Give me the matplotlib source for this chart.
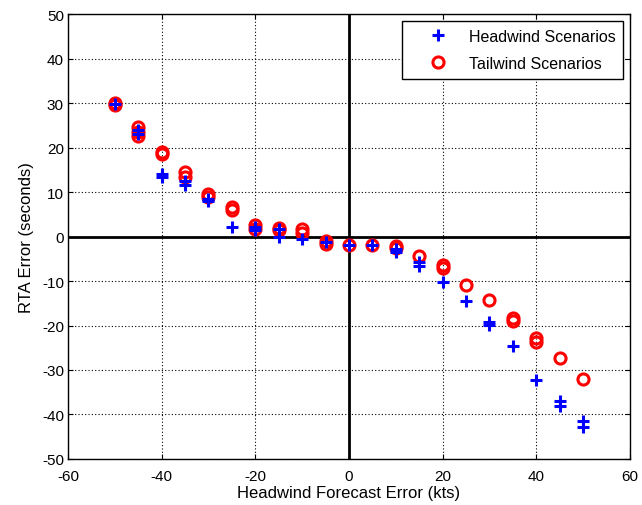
import numpy as np
import matplotlib.pyplot as plt

plt.rcParams['font.family'] = ['Liberation Sans', 'DejaVu Sans']
plt.rcParams['axes.unicode_minus'] = False

# Headwind scenarios (x, y)
head_x = [-50, -45, -45, -40, -40, -35, -35, -30, -30, -25, -20, -20,
          -15, -15, -10, -5, 0, 5, 10, 10, 15, 15, 20, 25, 30, 30,
          35, 40, 45, 45, 50, 50]
head_y = [29.7, 24.0, 23.0, 14.0, 13.5, 12.6, 11.5, 8.5, 8.0, 2.2, 2.2, 1.5,
          1.8, 0.0, -0.6, -1.3, -1.8, -1.8, -2.8, -3.5, -5.8, -6.6, -10.3, -14.4, -19.1, -19.9,
          -24.5, -32.2, -36.9, -38.0, -41.4, -42.9]

# Tailwind scenarios (x, y)
tail_x = [-50, -50, -45, -45, -45, -40, -40, -35, -35, -30, -30, -25, -25,
          -20, -20, -15, -15, -10, -10, -5, -5, 0, 5, 10, 10, 15, 20, 20,
          25, 30, 35, 35, 40, 40, 45, 50]
tail_y = [30.0, 29.5, 24.6, 23.6, 22.6, 19.0, 18.5, 14.5, 13.3, 9.6, 8.8, 6.6, 6.0,
          2.6, 1.8, 1.9, 1.5, 1.8, 0.9, -1.0, -1.7, -1.8, -1.8, -2.1, -2.6, -4.3, -6.5, -7.0,
          -10.9, -14.2, -18.4, -19.0, -22.9, -23.6, -27.3, -32.0]

fig = plt.figure(figsize=(6.42, 5.06), dpi=100)
ax = fig.add_axes([0.106, 0.091, 0.875, 0.879])

ax.axhline(0, color='black', lw=2, zorder=1)
ax.axvline(0, color='black', lw=2, zorder=1)

ax.plot(head_x, head_y, '+', color='blue', markersize=9, mew=2.2,
        label='Headwind Scenarios', zorder=3)
ax.plot(tail_x, tail_y, 'o', color='red', markersize=8, mew=2.2,
        mfc='none', label='Tailwind Scenarios', zorder=2)

ax.set_xlim(-60, 60)
ax.set_ylim(-50, 50)
ax.set_xticks(np.arange(-60, 61, 20))
ax.set_yticks(np.arange(-50, 51, 10))
ax.grid(True, color='black', linestyle=(0, (1, 2)), linewidth=0.8)
ax.tick_params(direction='in', top=True, right=True, labelsize=11)
ax.tick_params(axis='x', pad=7)
ax.tick_params(axis='y', pad=3)
for s in ax.spines.values():
    s.set_linewidth(1.0)

ax.set_xlabel('Headwind Forecast Error (kts)', fontsize=12, labelpad=2)
ax.set_ylabel('RTA Error (seconds)', fontsize=12, labelpad=6)

leg = ax.legend(loc='upper right', fontsize=11.5, fancybox=False, edgecolor='black',
                framealpha=1, borderaxespad=0.4, borderpad=0.5, labelspacing=0.75,
                handlelength=3.6, handletextpad=0.1)
leg.get_frame().set_linewidth(1.0)

fig.savefig('out.png', dpi=100)
